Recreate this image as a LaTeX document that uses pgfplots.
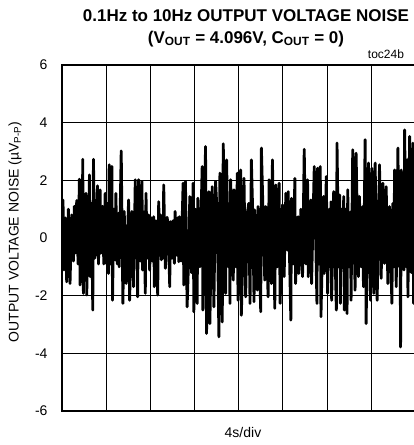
\documentclass[border=0pt]{standalone}
\usepackage{fontspec}
\setmainfont{Liberation Sans}
\usepackage{pgfplots}
\pgfplotsset{compat=1.18}
\pgfplotstableread{
x y
36 0.2
39 1.32
42 -1.11
46 0.7
50 -1.52
55 1.0
60 -1.58
65 0.8
70 -0.8
73 1.1
75 -0.53
80 1.3
84 -0.9
88 2.04
90 -1.63
94 1.2
96 -1.0
98 2.73
100 -1.92
104 1.0
106 -1.1
108 1.55
110 -1.98
114 1.3
116 -0.8
118 2.19
120 -1.34
124 1.2
128 -2.50
130 2.73
134 -0.7
137 1.3
140 -0.59
142 1.81
145 -0.9
150 1.67
152 -0.53
157 1.1
161 -0.9
165 1.55
168 -0.88
172 1.2
175 -1.23
177 2.54
181 -0.9
185 2.48
187 -2.16
191 1.0
195 -0.76
197 1.55
201 -0.9
205 0.86
207 -1.0
213 3.02
218 -2.27
222 0.92
228 -1.58
235 1.32
238 -2.16
245 0.92
250 -1.69
255 2.02
258 -0.7
260 1.0
262 -2.04
265 2.02
270 -0.8
275 1.96
277 -1.11
281 0.9
285 -1.92
287 1.55
291 -0.7
295 0.80
298 -1.11
303 0.7
306 -0.8
310 0.74
312 -1.69
317 0.6
322 -1.98
325 1.26
329 -0.6
331 0.8
333 -0.76
336 0.7
338 -0.7
340 1.84
345 -1.05
350 0.72
353 0.5
358 -1.69
360 0.57
365 -0.7
368 0.6
372 -0.88
374 0.92
379 -0.6
382 0.7
385 -0.82
387 0.74
392 -0.8
398 1.90
400 -1.63
405 1.96
410 -2.39
414 -0.9
418 1.44
423 -1.2
428 1.90
430 -2.56
435 1.0
440 -2.27
442 1.38
448 -1.0
455 2.48
457 -2.50
465 3.17
468 -3.31
475 1.61
478 -2.97
485 1.78
490 -2.39
495 1.96
500 0.8
505 -3.43
508 2.25
515 -2.91
518 3.27
525 -1.92
528 2.71
533 -1.0
536 1.2
538 -2.27
540 2.02
548 -1.46
550 1.67
556 -1.0
560 2.25
562 -2.16
570 2.36
572 -2.68
576 -0.9
580 2.07
585 -2.04
590 0.86
594 1.2
598 -2.27
602 2.71
606 0.9
610 -2.21
612 0.97
620 -1.81
622 1.09
630 -2.56
632 3.12
642 -1.46
645 1.09
652 -2.04
655 2.02
662 -1.58
665 2.71
672 -2.44
675 1.84
680 -1.0
685 1.90
688 -2.27
695 1.15
700 -1.34
705 1.55
710 -0.42
712 1.61
720 -2.85
722 1.38
727 -0.9
732 2.07
734 -1.58
742 0.74
744 -1.23
750 1.0
755 -1.34
760 3.08
765 -0.9
770 2.02
772 -1.34
780 1.32
782 -1.58
790 2.48
798 -2.27
800 2.42
804 -0.9
808 2.48
810 -2.73
818 1.44
820 -1.23
826 2.13
830 -1.92
835 1.0
838 -1.0
840 1.26
842 -2.16
848 1.61
856 -2.50
858 3.29
863 -1.0
866 1.49
868 -2.27
872 1.0
875 -1.0
878 1.44
880 -2.50
884 1.0
888 -2.62
890 1.67
894 -1.0
898 0.9
900 -2.16
905 3.06
912 -1.81
915 2.94
922 -1.34
925 1.44
930 -1.0
935 1.09
937 -1.69
942 3.41
945 -2.97
952 2.60
958 -2.16
962 2.42
968 -1.92
972 2.60
978 -2.16
985 2.54
990 -1.40
995 1.90
1000 -0.88
1005 1.78
1010 -1.58
1015 1.09
1022 -2.27
1025 1.2
1028 -1.0
1030 2.36
1035 -1.69
1040 3.12
1044 -1.0
1046 1.5
1048 -3.78
1050 2.36
1058 -1.11
1060 3.75
1065 -1.0
1068 2.71
1070 -2.04
1075 3.52
1080 -1.2
1085 3.29
1087 -2.27
1092 1.0
}\noise
\begin{document}
\begin{tikzpicture}
\begin{axis}[
  scale only axis,
  width=353.3bp, height=346bp,
  xmin=36, xmax=1092,
  ymin=-6, ymax=6,
  xtick={36,168,300,432,564,696,828,960,1092},
  xticklabels={},
  ytick={-6,-4,-2,0,2,4,6},
  major tick length=0pt,
  grid=major,
  major grid style={black, line width=0.8bp},
  axis line style={black, line width=2.8bp},
  /pgf/number format/assume math mode=true,
  yticklabel style={font=\fontsize{14bp}{16bp}\selectfont, xshift=-11bp},
  clip=true,
]
\addplot[black, line width=2.8bp, line join=round] table[x=x,y=y] {\noise};
\end{axis}
\node[font=\bfseries\fontsize{17bp}{20bp}\selectfont] at ([shift={(184bp,49bp)}]current axis.north west) {0.1Hz to 10Hz OUTPUT VOLTAGE NOISE};
\node[font=\bfseries\fontsize{17bp}{20bp}\selectfont] at ([shift={(184bp,26bp)}]current axis.north west) {(V\textsubscript{OUT} = 4.096V, C\textsubscript{OUT} = 0)};
\node[font=\fontsize{12bp}{14bp}\selectfont] at ([shift={(324bp,11bp)}]current axis.north west) {toc24b};
\node[rotate=90, font=\fontsize{14bp}{16bp}\selectfont] at ([shift={(-47bp,-167bp)}]current axis.north west) {OUTPUT VOLTAGE NOISE (µV\textsubscript{P-P})};
\node[font=\fontsize{14bp}{16bp}\selectfont] at ([shift={(181bp,-367bp)}]current axis.north west) {4s/div};
\pgfresetboundingbox
\path[use as bounding box] ([shift={(-62bp,-34bp)}]current axis.south west) rectangle ([shift={(-1.4bp,65bp)}]current axis.north east);
\end{tikzpicture}
\end{document}
